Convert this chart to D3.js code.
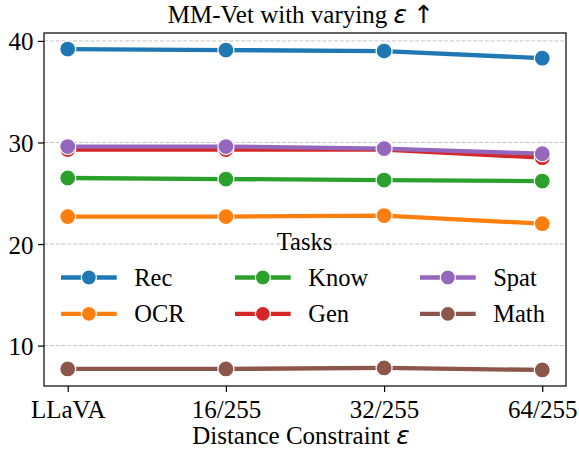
<!DOCTYPE html>
<html>
<head>
<meta charset="utf-8">
<script src="https://cdn.jsdelivr.net/npm/d3@7"></script>
<style>
    body{margin:0;background:#fff;}
    svg text{font-family:'Liberation Serif','Times New Roman',serif;fill:#000;}
    svg text .math{font-family:'DejaVu Sans',sans-serif;font-style:italic;}
</style>
</head>
<body>
<div id="graphWrapper"></div>
<script>
//data
const CATEGORIES = ['LLaVA','16/255','32/255','64/255'];
const TASKS = ['Rec','OCR','Know','Gen','Spat','Math'];
const REC = [39.2,39.1,39.0,38.3];
const OCR = [22.7,22.7,22.8,22.0];
const KNOW = [26.5,26.4,26.3,26.2];
const GEN = [29.3,29.3,29.3,28.5];
const SPAT = [29.6,29.6,29.4,28.9];
const MATH = [7.7,7.7,7.8,7.6];
const Y_TICKS = [10,20,30,40];
const COLORS = ['#1f77b4','#ff7f0e','#2ca02c','#d62728','#9467bd','#8c564b'];

//constants
const CONSTANTS = {
    WIDTH:579,
    HEIGHT:449,
    LEFT:44,     //left edge of the plot box
    RIGHT:566,   //right edge of the plot box
    TOP:33,      //top edge of the plot box
    BOTTOM:386,  //bottom edge of the plot box
    TEXT_X:301,  //centre used for the title and the x label
    FONT:25,
    LEGEND_FONT:24.5,
    LINE_WIDTH:4.3,
    RADIUS:8
};

function main(){
    let series = [REC,OCR,KNOW,GEN,SPAT,MATH].map((values,i)=>({
        name:TASKS[i],
        color:COLORS[i],
        values:values
    }));

    let svg = d3.select('#graphWrapper')
        .append('svg')
        .attr('width',CONSTANTS.WIDTH)
        .attr('height',CONSTANTS.HEIGHT);

    let scales = buildScales(series);
    buildAxis(svg,scales);
    buildLines(svg,series,scales);
    buildLegend(svg,series);
    buildTexts(svg);
}

function buildScales(series){
    let all = series.flatMap(s=>s.values);
    let min = d3.min(all);
    let max = d3.max(all);
    let margin = (max - min) * 0.05; //matplotlib style auto margin

    let x = d3.scalePoint()
        .domain(CATEGORIES)
        .range([CONSTANTS.LEFT,CONSTANTS.RIGHT])
        .padding(0.15);

    let y = d3.scaleLinear()
        .domain([min - margin,max + margin])
        .range([CONSTANTS.BOTTOM,CONSTANTS.TOP]);

    return {x:x,y:y};
}

function buildAxis(svg,scales){
    //grid
    svg.append('g')
        .selectAll('line')
        .data(Y_TICKS)
        .enter()
        .append('line')
        .attr('x1',CONSTANTS.LEFT)
        .attr('x2',CONSTANTS.RIGHT)
        .attr('y1',d=>scales.y(d))
        .attr('y2',d=>scales.y(d))
        .style('stroke','#c4c4c4')
        .style('stroke-width',1)
        .style('stroke-dasharray','4,1.8');

    let xAxis = d3.axisBottom(scales.x).tickSizeOuter(0).tickSize(6).tickPadding(8);
    let yAxis = d3.axisLeft(scales.y).tickValues(Y_TICKS).tickSizeOuter(0).tickSize(6).tickPadding(4.5);

    let gx = svg.append('g')
        .attr('id','x-axis')
        .attr('transform','translate(0,'+ CONSTANTS.BOTTOM +')')
        .call(xAxis);
    let gy = svg.append('g')
        .attr('id','y-axis')
        .attr('transform','translate('+ CONSTANTS.LEFT +',0)')
        .call(yAxis);

    [gx,gy].forEach(g=>{
        g.attr('font-family',null).attr('font-size',null);
        g.select('.domain').remove();
        g.selectAll('line').style('stroke','#000').style('stroke-width',1.2);
        g.selectAll('text')
            .style('font-family','Liberation Serif')
            .style('font-size',CONSTANTS.FONT+'px')
            .style('fill','#000');
    });
    gy.selectAll('text').attr('dy','0.36em');

    //frame
    svg.append('rect')
        .attr('x',CONSTANTS.LEFT)
        .attr('y',CONSTANTS.TOP)
        .attr('width',CONSTANTS.RIGHT - CONSTANTS.LEFT)
        .attr('height',CONSTANTS.BOTTOM - CONSTANTS.TOP)
        .style('fill','none')
        .style('stroke','#000')
        .style('stroke-width',1.2);
}

function buildLines(svg,series,scales){
    let line = d3.line()
        .x((d,i)=>scales.x(CATEGORIES[i]))
        .y(d=>scales.y(d));

    let groups = svg.selectAll('.task')
        .data(series)
        .enter()
        .append('g')
        .attr('class','task');

    groups.append('path')
        .attr('d',d=>line(d.values))
        .style('fill','none')
        .style('stroke',d=>d.color)
        .style('stroke-width',CONSTANTS.LINE_WIDTH);

    groups.each(function(s){
        d3.select(this).selectAll('circle')
            .data(s.values)
            .enter()
            .append('circle')
            .attr('cx',(d,i)=>scales.x(CATEGORIES[i]))
            .attr('cy',d=>scales.y(d))
            .attr('r',CONSTANTS.RADIUS)
            .style('fill',s.color)
            .style('stroke','#fff')
            .style('stroke-width',1.2);
    });
}

function buildLegend(svg,series){
    let colX = [61,235,420];   //start of handle in each column
    let rowY = [277.5,313.8];
    let handleLen = 55.7;
    let textGap = 17.5;

    svg.append('text')
        .text('Tasks')
        .attr('x',304.5)
        .attr('y',250)
        .attr('text-anchor','middle')
        .style('font-size',CONSTANTS.LEGEND_FONT+'px');

    series.forEach((s,i)=>{
        let col = Math.floor(i/2);
        let row = i % 2;
        let g = svg.append('g')
            .attr('class','legend')
            .attr('transform','translate(' + colX[col] + ',' + rowY[row] + ')');
        g.append('line')
            .attr('x1',0)
            .attr('x2',handleLen)
            .attr('y1',0)
            .attr('y2',0)
            .style('stroke',s.color)
            .style('stroke-width',CONSTANTS.LINE_WIDTH);
        g.append('circle')
            .attr('cx',handleLen/2)
            .attr('cy',0)
            .attr('r',7.5)
            .style('fill',s.color)
            .style('stroke','#fff')
            .style('stroke-width',1.2);
        g.append('text')
            .text(s.name)
            .attr('x',handleLen + textGap)
            .attr('y',8.5)
            .style('font-size',CONSTANTS.LEGEND_FONT+'px');
    });
}

function buildTexts(svg){
    let title = svg.append('text')
        .attr('x',CONSTANTS.TEXT_X)
        .attr('y',23)
        .attr('text-anchor','middle')
        .style('font-size',CONSTANTS.FONT+'px');
    title.append('tspan').text('MM-Vet with varying ');
    title.append('tspan').attr('class','math').text('ε');
    title.append('tspan').text(' ');
    title.append('tspan').style('font-family','DejaVu Sans').text('↑');

    let label = svg.append('text')
        .attr('x',CONSTANTS.TEXT_X)
        .attr('y',443.5)
        .attr('text-anchor','middle')
        .style('font-size',CONSTANTS.FONT+'px');
    label.append('tspan').text('Distance Constraint ');
    label.append('tspan').attr('class','math').text('ε');
}

main();
</script>
</body>
</html>
